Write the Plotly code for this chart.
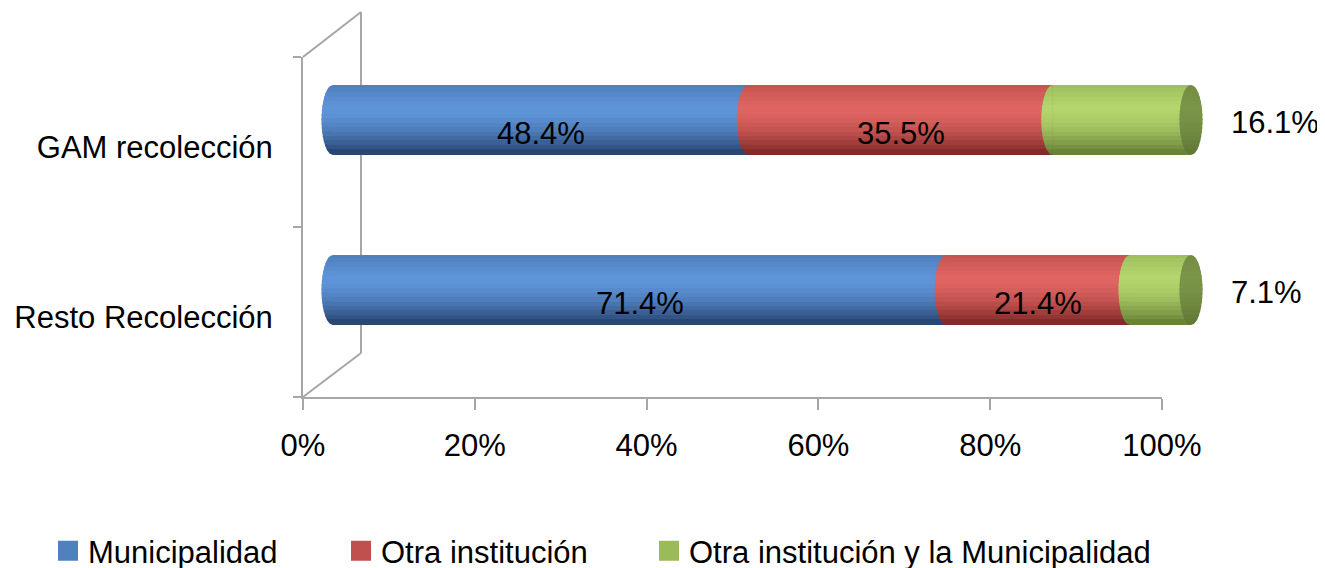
import numpy as np
import plotly.graph_objects as go

# ---------------- data ----------------
categories = ["GAM recolección", "Resto Recolección"]
series_names = ["Municipalidad", "Otra institución", "Otra institución y la Municipalidad"]
municipalidad = [48.4, 71.4]
otra_institucion = [35.5, 21.4]
otra_inst_y_muni = [16.1, 7.1]
x_tickvals = [0, 20, 40, 60, 80, 100]
x_ticktext = ["0%", "20%", "40%", "60%", "80%", "100%"]

# ---------------- styles ----------------
series_values = [municipalidad, otra_institucion, otra_inst_y_muni]
legend_colors = ["#4F81BD", "#C0504D", "#9BBB59"]
light_rgb = [(94, 149, 217), (224, 101, 98), (180, 213, 108)]
dark_rgb = [(36, 64, 108), (122, 38, 36), (98, 124, 52)]
cap_light = (122, 148, 72)
cap_dark = (82, 102, 44)
label_outside = [False, False, True]
FONT = "Liberation Sans, Arial, sans-serif"
FS = 31
GRAY = "#a6a6a6"

W, H = 1325, 568
OFF = 8  # page body margin


def pxx(x):
    return (x - OFF) / W


def pyy(y):
    return 1 - (y - OFF) / H


# geometry (screen pixels)
AX_X0, AX_X100 = 303, 1162          # front axis
AX_YTOP, AX_YBOT = 57, 397
BAR_X0, BAR_X100 = 333, 1191        # bars (pushed back in depth)
BAR_YTOP, BAR_YBOT = 35, 375
XR2 = (-3, 103)
unit = (BAR_X100 - BAR_X0) / 100.0
x2_dom = [pxx(BAR_X0 + XR2[0] * unit), pxx(BAR_X0 + XR2[1] * unit)]
BAR_H = 70 / 170.0
CAP_A = 11.5 / unit                  # half width of ellipse caps (x units)
N = 16                               # shading strips
LEGEND_X = [40, 333, 641]
LEGEND_Y = 543


def profile(p):
    if p < 0.33:
        return 0.72 + 0.28 * (p / 0.33)
    return 1 - ((p - 0.33) / 0.67) ** 1.8


def mix(lo, hi, f):
    return "rgb(%d,%d,%d)" % tuple(int(round(lo[i] + (hi[i] - lo[i]) * f)) for i in range(3))


# 100% stacked shares
vals = np.array(series_values, dtype=float)
totals = vals.sum(axis=0)
shares = vals / totals * 100.0
starts = np.vstack([np.zeros(len(categories)), np.cumsum(shares, axis=0)[:-1]])

cat_order = categories[::-1]  # bottom to top
cat_idx = [cat_order.index(c) for c in categories]

fig = go.Figure()

# invisible trace to keep the front axes subplot
fig.add_trace(go.Scatter(x=[None], y=[None], xaxis="x", yaxis="y", showlegend=False, hoverinfo="skip"))

h = BAR_H / N
shapes = []
for si in range(len(series_values)):
    for k in range(N):
        p = (k + 0.5) / N
        col = mix(dark_rgb[si], light_rgb[si], profile(p))
        bot = BAR_H / 2 - (k + 1) * h
        w = h if k == 0 else h * 1.35
        fig.add_trace(go.Bar(
            y=categories, x=shares[si], base=starts[si], orientation="h",
            width=w, offset=bot, marker=dict(color=col, line=dict(width=0)),
            xaxis="x2", yaxis="y2", showlegend=False, hoverinfo="skip"))
        # left elliptical face of each segment
        for ci in range(len(categories)):
            c = cat_idx[ci]
            s = starts[si][ci]
            ys = np.linspace(c + bot, c + bot + w, 7)
            ys = np.clip(ys, c - BAR_H / 2, c + BAR_H / 2)
            xs = s - CAP_A * np.sqrt(np.clip(1 - ((ys - c) / (BAR_H / 2)) ** 2, 0, 1))
            path = "M %.4f,%.4f " % (s, ys[0])
            path += " ".join("L %.4f,%.4f" % (xx, yy) for xx, yy in zip(xs, ys))
            path += " L %.4f,%.4f Z" % (s, ys[-1])
            shapes.append(dict(type="path", xref="x2", yref="y2", path=path,
                               fillcolor=col, line=dict(width=0), layer="above"))

# right end face of the cylinders
last = len(series_values) - 1
for ci in range(len(categories)):
    c = cat_idx[ci]
    e = starts[last][ci] + shares[last][ci]
    for k in range(N):
        p = (k + 0.5) / N
        col = mix(cap_dark, cap_light, 0.35 + 0.65 * profile(p))
        bot = BAR_H / 2 - (k + 1) * h
        w = h if k == 0 else h * 1.35
        ys = np.linspace(c + bot, c + bot + w, 7)
        ys = np.clip(ys, c - BAR_H / 2, c + BAR_H / 2)
        hw = CAP_A * np.sqrt(np.clip(1 - ((ys - c) / (BAR_H / 2)) ** 2, 0, 1))
        pts = list(zip(e - hw, ys)) + list(zip((e + hw)[::-1], ys[::-1]))
        path = "M " + " L ".join("%.4f,%.4f" % pt for pt in pts) + " Z"
        shapes.append(dict(type="path", xref="x2", yref="y2", path=path,
                           fillcolor=col, line=dict(width=0), layer="above"))

# legend entries (one legend per entry, to place them like the original)
legend_ids = ["legend", "legend2", "legend3"]
for si, name in enumerate(series_names):
    fig.add_trace(go.Scatter(
        x=[None], y=[None], mode="markers", name=name, xaxis="x2", yaxis="y2",
        legend=legend_ids[si],
        marker=dict(symbol="square", size=16, color=legend_colors[si],
                    line=dict(width=4, color=legend_colors[si]))))

# data labels
annotations = []
for si in range(len(series_values)):
    for ci, cat in enumerate(categories):
        txt = "%.1f%%" % series_values[si][ci]
        if label_outside[si]:
            annotations.append(dict(
                x=starts[si][ci] + shares[si][ci], y=cat, xref="x2", yref="y2",
                text=txt, showarrow=False, xanchor="left", xshift=38, yshift=-2,
                font=dict(size=FS, color="black", family=FONT)))
        else:
            annotations.append(dict(
                x=starts[si][ci] + shares[si][ci] / 2, y=cat, xref="x2", yref="y2",
                text=txt, showarrow=False, xanchor="center", yshift=-13,
                font=dict(size=FS, color="black", family=FONT)))

# 3D wall (side) lines
wall = [
    ((303, 57), (361, 12)),
    ((361, 12), (361, 353)),
    ((303, 397), (361, 353)),
]
for (xa, ya), (xb, yb) in wall:
    shapes.append(dict(type="line", xref="paper", yref="paper",
                       x0=pxx(xa), y0=pyy(ya), x1=pxx(xb), y1=pyy(yb),
                       line=dict(color=GRAY, width=2), layer="below"))

legend_common = dict(orientation="h", xanchor="left", yanchor="middle",
                     itemsizing="trace", font=dict(size=FS, family=FONT, color="black"),
                     bgcolor="rgba(0,0,0,0)")

fig.update_layout(
    width=W, height=H,
    margin=dict(l=0, r=0, t=0, b=0, autoexpand=False),
    paper_bgcolor="white", plot_bgcolor="rgba(0,0,0,0)",
    barmode="overlay", bargap=0,
    font=dict(family=FONT, size=FS, color="black"),
    hovermode=False,
    showlegend=True,
    legend=dict(x=pxx(LEGEND_X[0] + OFF), y=pyy(LEGEND_Y + OFF), **legend_common),
    legend2=dict(x=pxx(LEGEND_X[1] + OFF), y=pyy(LEGEND_Y + OFF), **legend_common),
    legend3=dict(x=pxx(LEGEND_X[2] + OFF), y=pyy(LEGEND_Y + OFF), **legend_common),
    xaxis=dict(domain=[pxx(AX_X0), pxx(AX_X100)], range=[0, 100], anchor="y",
               showline=True, linecolor=GRAY, linewidth=2,
               ticks="outside", ticklen=11, tickwidth=2, tickcolor=GRAY,
               tickvals=x_tickvals, ticktext=x_ticktext,
               showgrid=False, zeroline=False, fixedrange=True,
               ticklabelstandoff=9, tickfont=dict(size=FS)),
    yaxis=dict(domain=[pyy(AX_YBOT), pyy(AX_YTOP)], range=[0, 2], anchor="x",
               showline=True, linecolor=GRAY, linewidth=2,
               ticks="", tickvals=[0.5, 1.5], ticktext=cat_order,
               minor=dict(tickvals=[0, 1, 2], ticks="outside", ticklen=8,
                          tickwidth=2, tickcolor=GRAY, showgrid=False),
               showgrid=False, zeroline=False, fixedrange=True,
               ticklabelstandoff=22, ticklabelshift=5, tickfont=dict(size=FS)),
    xaxis2=dict(domain=x2_dom, range=list(XR2), anchor="y2", visible=False, fixedrange=True),
    yaxis2=dict(domain=[pyy(BAR_YBOT), pyy(BAR_YTOP)], range=[-0.5, 1.5], anchor="x2",
                type="category", categoryorder="array", categoryarray=cat_order,
                visible=False, fixedrange=True),
    shapes=shapes,
    annotations=annotations,
)

fig.write_html("out.html")
